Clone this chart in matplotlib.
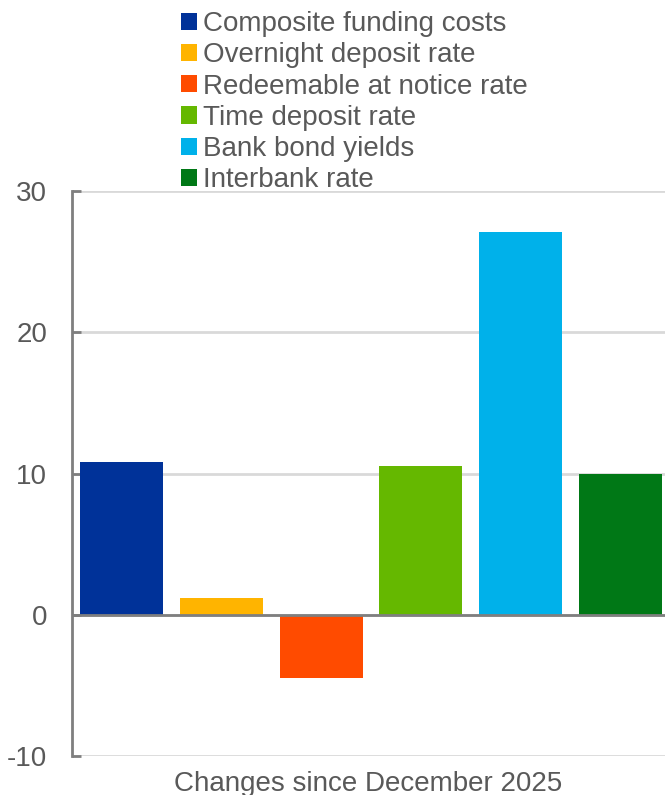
import matplotlib.pyplot as plt
from matplotlib.patches import Patch

plt.rcParams['font.family'] = ['Liberation Sans', 'DejaVu Sans']
plt.rcParams['axes.unicode_minus'] = False

series = ['Composite funding costs', 'Overnight deposit rate', 'Redeemable at notice rate',
          'Time deposit rate', 'Bank bond yields', 'Interbank rate']
changes = [10.8, 1.2, -4.5, 10.5, 27.1, 10.0]
colors = ['#003299', '#FFB400', '#FF4B00', '#65B800', '#00B1EA', '#007816']
yticks = [-10, 0, 10, 20, 30]
xlabel = 'Changes since December 2025'

text_col = '#595959'

fig = plt.figure(figsize=(6.65, 7.95), dpi=100)
ax = fig.add_axes([72 / 665, 1 - 756 / 795, 593 / 665, 565 / 795])

pos = range(len(series))
ax.bar(pos, changes, width=0.83, color=colors, zorder=3)

ax.set_xlim(-0.5, 5.45)
ax.set_ylim(-10, 30)
ax.set_yticks(yticks)
ax.set_xticks([])
ax.yaxis.grid(True, color='#d9d9d9', linewidth=2, zorder=0)
ax.axhline(0, color='#7f7f7f', linewidth=2, zorder=4)

for s in ['top', 'right', 'bottom']:
    ax.spines[s].set_visible(False)
ax.spines['left'].set_color('#7f7f7f')
ax.spines['left'].set_linewidth(2)
ax.tick_params(axis='y', direction='in', colors='#7f7f7f', length=6.5, width=2,
               pad=18, labelsize=20, labelcolor=text_col)

# x label sits at the very bottom edge, partly clipped
fig.text(368 / 665, 1 - 771 / 795, xlabel, ha='center', va='top',
         fontsize=20, color=text_col)

handles = [Patch(facecolor=c, label=l) for c, l in zip(colors, series)]
fig.legend(handles=handles, loc='upper left', bbox_to_anchor=(181 / 665, 1 - 11 / 795),
           frameon=False, fontsize=20, labelcolor=text_col, handlelength=0.58,
           handleheight=0.58, handletextpad=0.22, labelspacing=0.19, borderpad=0,
           borderaxespad=0)

fig.savefig('out.png', dpi=100)
